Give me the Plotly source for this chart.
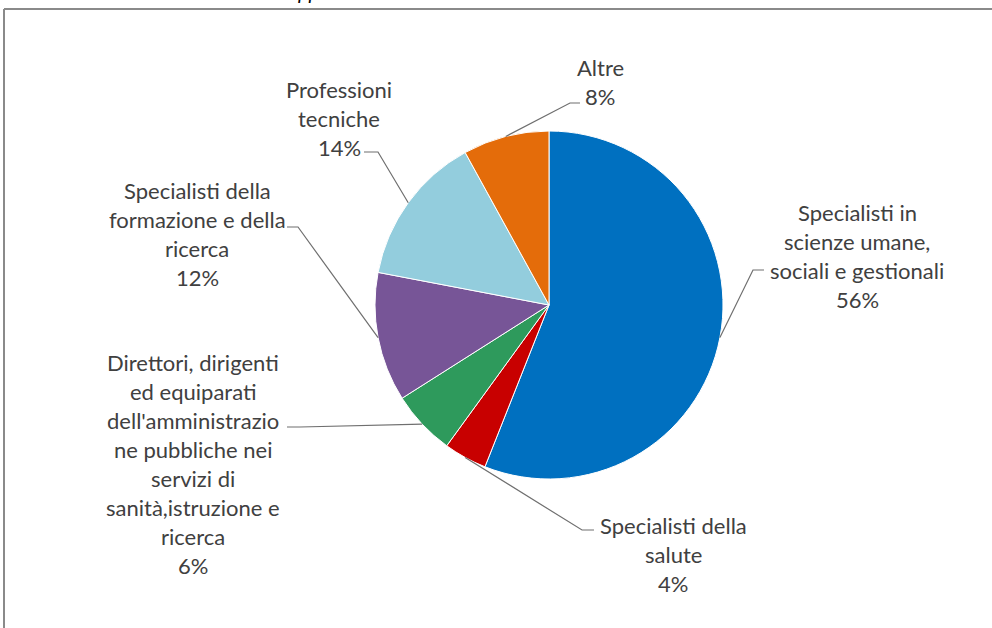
import plotly.graph_objects as go
import math

# data
categories = [
    "Specialisti in scienze umane, sociali e gestionali",
    "Specialisti della salute",
    "Direttori, dirigenti ed equiparati dell'amministrazione pubbliche nei servizi di sanità,istruzione e ricerca",
    "Specialisti della formazione e della ricerca",
    "Professioni tecniche",
    "Altre",
]
values = [56, 4, 6, 12, 14, 8]
label_lines = [
    ["Specialisti in", "scienze umane,", "sociali e gestionali"],
    ["Specialisti della", "salute"],
    ["Direttori, dirigenti", "ed equiparati", "dell'amministrazio", "ne pubbliche nei",
     "servizi di", "sanità,istruzione e", "ricerca"],
    ["Specialisti della", "formazione e della", "ricerca"],
    ["Professioni", "tecniche"],
    ["Altre"],
]
colors = ["#0070C0", "#C80000", "#2E9A5C", "#775597", "#93CDDD", "#E46C0A"]

W, H = 992, 628
cx, cy, r = 549, 305, 174  # pie geometry in px
line_gap = 29
font = dict(family="Lato", size=22, color="#404040")

# label block centres, leader elbow and leader end (px)
label_pos = [(857, 256), (673, 554), (193, 464), (197, 234), (339, 118), (600, 82)]
elbows = [(753, 270), (582, 530), (300, 427), (298, 227), (378, 152), (570, 103)]
ends = [(764, 270), (594, 530), (287, 427), (287, 227), (364, 152), (580, 103)]


def px(x, y):
    return x / W, 1 - y / H


fig = go.Figure()
fig.add_trace(go.Pie(
    labels=categories, values=values, sort=False, direction="clockwise",
    rotation=0, textinfo="none", hoverinfo="label+percent",
    marker=dict(colors=colors, line=dict(color="white", width=1)),
    domain=dict(x=[(cx - r) / W, (cx + r) / W], y=[1 - (cy + r) / H, 1 - (cy - r) / H]),
    showlegend=False,
))

total = sum(values)
cum = 0
annotations = []
shapes = []
for i, v in enumerate(values):
    mid = (cum + v / 2) / total * 2 * math.pi
    cum += v
    ex, ey = cx + r * math.sin(mid), cy - r * math.cos(mid)
    pct = "%d%%" % round(v / total * 100)
    lines = label_lines[i] + [pct]
    bx, by = label_pos[i]
    n = len(lines)
    for j, t in enumerate(lines):
        x, y = px(bx, by + (j - (n - 1) / 2) * line_gap)
        annotations.append(dict(x=x, y=y, xref="paper", yref="paper", text=t,
                                showarrow=False, xanchor="center", yanchor="middle",
                                font=font))
    p0 = px(ex, ey)
    p1 = px(*elbows[i])
    p2 = px(*ends[i])
    shapes.append(dict(type="path", xref="paper", yref="paper",
                       path="M %f %f L %f %f L %f %f" % (p0[0], p0[1], p1[0], p1[1], p2[0], p2[1]),
                       line=dict(color="#6f6f6f", width=1.2)))

# chart frame (top and left edges visible)
shapes.append(dict(type="line", xref="paper", yref="paper", x0=4 / W, x1=1, y0=1 - 9 / H, y1=1 - 9 / H,
                   line=dict(color="#8a8a8a", width=2)))
shapes.append(dict(type="line", xref="paper", yref="paper", x0=4 / W, x1=4 / W, y0=0, y1=1 - 9 / H,
                   line=dict(color="#8a8a8a", width=2)))

# cut-off title fragment at the very top
annotations.append(dict(x=308 / W, y=1 - 6 / H, xref="paper", yref="paper", text="<i>pp</i>",
                        showarrow=False, xanchor="center", yanchor="bottom",
                        font=dict(family="Lato", size=20, color="#000000")))

fig.update_layout(
    width=W, height=H, margin=dict(l=0, r=0, t=0, b=0),
    paper_bgcolor="white", plot_bgcolor="white",
    annotations=annotations, shapes=shapes,
)

fig.write_html("out.html", config={"displayModeBar": False},
               post_script="document.body.style.margin='0';")
